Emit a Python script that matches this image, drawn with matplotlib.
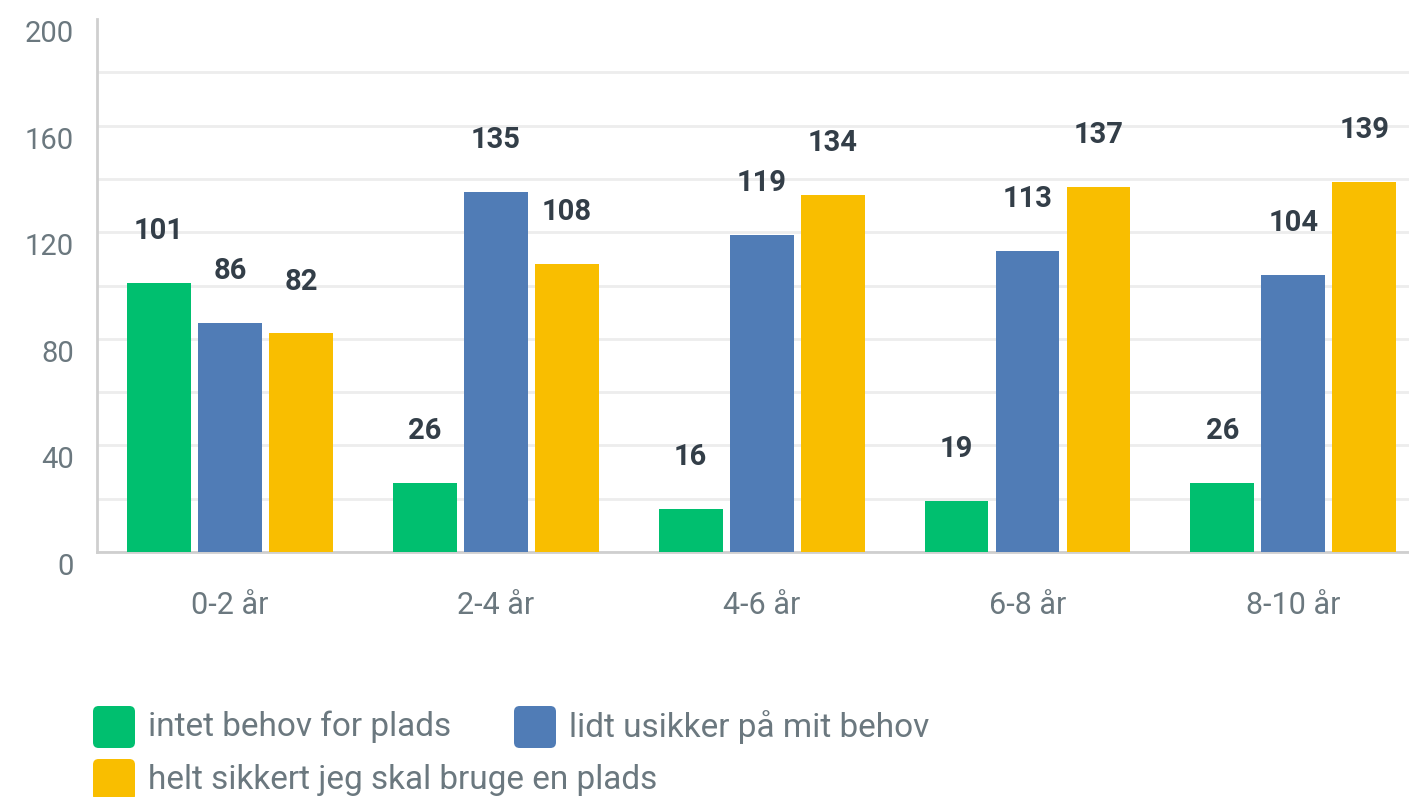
import matplotlib
matplotlib.use("Agg")
import matplotlib.pyplot as plt
import matplotlib.transforms as mtransforms
from matplotlib.patches import FancyBboxPatch
import numpy as np

categories = ["0-2 år", "2-4 år", "4-6 år", "6-8 år", "8-10 år"]
series_names = ["intet behov for plads", "lidt usikker på mit behov",
                "helt sikkert jeg skal bruge en plads"]
intet = [101, 26, 16, 19, 26]
usikker = [86, 135, 119, 113, 104]
sikkert = [82, 108, 134, 137, 139]
yticks = [0, 40, 80, 120, 160, 200]

colors = ["#00BF6F", "#507CB6", "#F9BE00"]
plt.rcParams['font.family'] = ['Roboto', 'DejaVu Sans']

W, H = 1409, 797
fig = plt.figure(figsize=(W / 100, H / 100), dpi=100)
ax = fig.add_axes([97 / W, 1 - 552 / H, 1 - 97 / W, (552 - 19) / H])

x = np.arange(len(categories))
offsets = [-0.267, 0.0, 0.267]
width = 0.24
for vals, off, c in zip([intet, usikker, sikkert], offsets, colors):
    ax.bar(x + off, vals, width=width, color=c, zorder=3)
    for xi, v in zip(x + off, vals):
        ax.text(xi, v + 19.5, str(v), ha="center", va="center", fontsize=21,
                fontweight="bold", color="#333E48", zorder=4)

ax.set_xlim(-0.5, 4.435)
ax.set_ylim(0, 200)
ax.set_yticks(yticks)
ax.set_yticks(np.arange(20, 200, 20), minor=True)
ax.yaxis.grid(True, which="both", color="#EDEDED", linewidth=2, zorder=0)
ax.set_xticks(x)
ax.set_xticklabels(categories, fontsize=22, color="#6B787F")
ax.tick_params(axis="x", length=0, pad=28)
ax.tick_params(axis="y", which="both", length=0, pad=24, labelsize=21,
               labelcolor="#6B787F")
offset = mtransforms.ScaledTranslation(0, -12 / 100, fig.dpi_scale_trans)
offset_x = mtransforms.ScaledTranslation(10 / 100, 0, fig.dpi_scale_trans)
for lab in ax.get_yticklabels():
    lab.set_transform(lab.get_transform() + offset + offset_x)
ax.yaxis.get_gridlines()[-1].set_visible(False)

for s in ["top", "right"]:
    ax.spines[s].set_visible(False)
for s in ["left", "bottom"]:
    ax.spines[s].set_color("#CFCFCF")
    ax.spines[s].set_linewidth(2)
ax.spines["left"].set_zorder(5)

# legend
leg_items = [(93, 727), (514, 727), (93, 780)]
for (lx, ly), name, c in zip(leg_items, series_names, colors):
    fig.add_artist(FancyBboxPatch((lx / W, (H - ly - 21) / H), 42 / W, 42 / H,
                                  boxstyle="round,pad=0,rounding_size=0.004",
                                  transform=fig.transFigure, facecolor=c,
                                  edgecolor="none", mutation_aspect=W / H))
    fig.text((lx + 55) / W, (H - ly) / H, name, fontsize=24, color="#6B787F",
             va="center", ha="left")

fig.savefig("out.png", dpi=100)
